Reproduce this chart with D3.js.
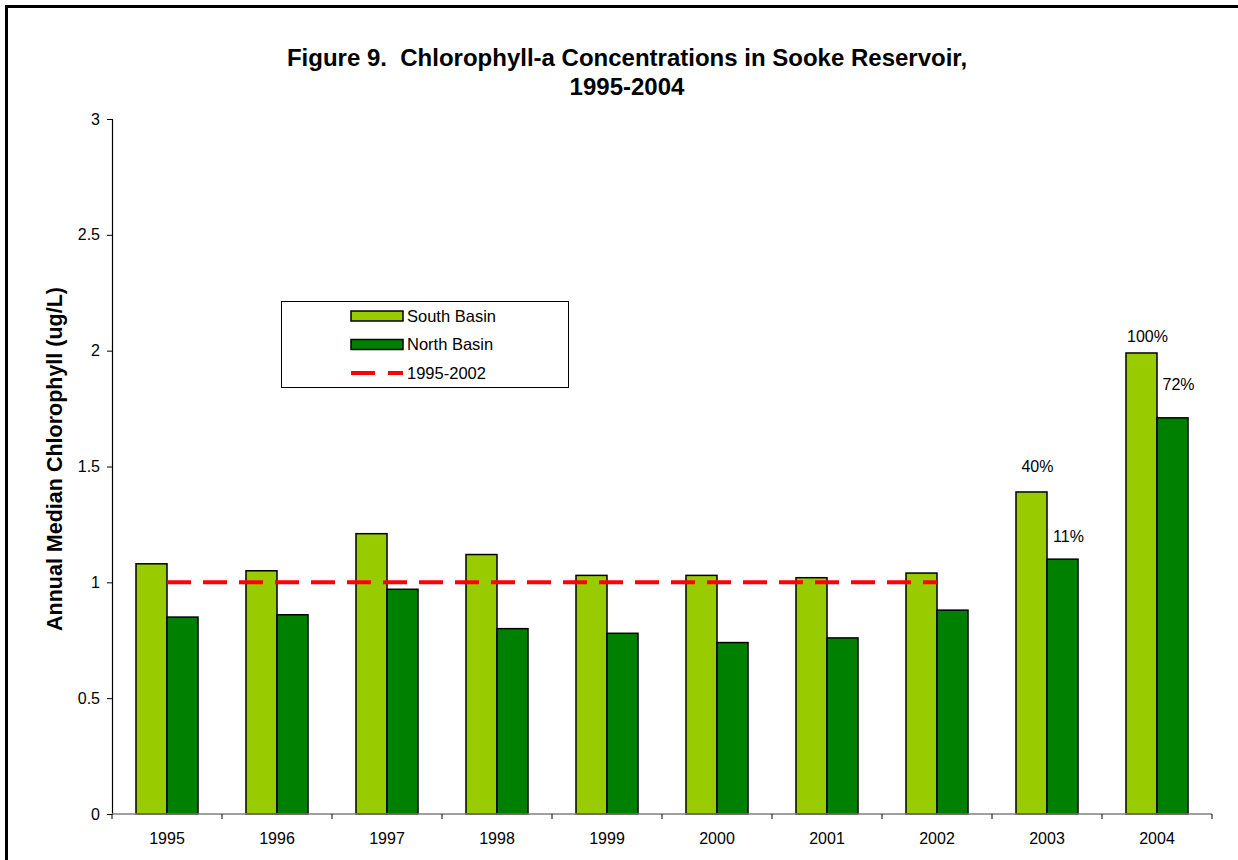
<!DOCTYPE html>
<html>
<head>
<meta charset="utf-8">
<script src="https://cdn.jsdelivr.net/npm/d3@7"></script>
<style>
  body { margin: 0; background: #fff; }
  svg { display: block; font-family: "Liberation Sans", Arial, sans-serif; }
</style>
</head>
<body>
<div id="chart"></div>
<script>
// chlorophyll-a annual medians, Sooke Reservoir
var years = ["1995", "1996", "1997", "1998", "1999", "2000", "2001", "2002", "2003", "2004"];
var southBasin = [1.08, 1.05, 1.21, 1.12, 1.03, 1.03, 1.02, 1.04, 1.39, 1.99];
var northBasin = [0.85, 0.86, 0.97, 0.80, 0.78, 0.74, 0.76, 0.88, 1.10, 1.71];
var refYears = ["1995", "1996", "1997", "1998", "1999", "2000", "2001", "2002"];
var refValues = [1, 1, 1, 1, 1, 1, 1, 1];
var yTicks = [0, 0.5, 1, 1.5, 2, 2.5, 3];

// percent-increase notes: year, series, text, height (ug/L) where the note sits
var notes = [
  { year: "2003", series: "South Basin", text: "40%", at: 1.476 },
  { year: "2003", series: "North Basin", text: "11%", at: 1.174 },
  { year: "2004", series: "South Basin", text: "100%", at: 2.037 },
  { year: "2004", series: "North Basin", text: "72%", at: 1.83 }
];

var seriesNames = ["South Basin", "North Basin"];
var colors = { "South Basin": "#99cc00", "North Basin": "#008000" };

var width = 1238, height = 860;
var margin = { left: 112, right: 26, top: 119, bottom: 46 };

var svg = d3.select("#chart").append("svg")
    .attr("width", width)
    .attr("height", height);

// outer frame (right and bottom edges run off the page)
svg.append("rect")
    .attr("x", 6.5).attr("y", 6.5)
    .attr("width", 1260).attr("height", 880)
    .attr("fill", "none")
    .attr("stroke", "#000")
    .attr("stroke-width", 3);

var x0 = d3.scaleBand()
    .domain(years)
    .range([margin.left, width - margin.right])
    .padding(0);

var x1 = d3.scaleBand()
    .domain(seriesNames)
    .range([0, x0.bandwidth()])
    .paddingInner(0)
    .paddingOuter(0.774);

var y = d3.scaleLinear()
    .domain([0, 3])
    .range([height - margin.bottom, margin.top]);

// title
var title = svg.append("text")
    .attr("text-anchor", "middle")
    .attr("font-weight", "bold")
    .attr("font-size", 24)
    .attr("fill", "#000");
title.append("tspan").attr("x", 627).attr("y", 66)
    .attr("xml:space", "preserve")
    .text("Figure 9.\u00a0 Chlorophyll-a Concentrations in Sooke Reservoir,");
title.append("tspan").attr("x", 627).attr("y", 95)
    .text("1995-2004");

// y axis
var yAxis = svg.append("g")
    .attr("transform", "translate(" + margin.left + ",0)")
    .call(d3.axisLeft(y).tickValues(yTicks).tickSize(5).tickPadding(7)
      .tickFormat(function(d) { return String(d); }));
yAxis.select(".domain").attr("stroke", "#000").attr("stroke-width", 1.2);
yAxis.selectAll(".tick line").attr("stroke", "#000");
yAxis.selectAll(".tick text")
    .attr("font-size", 16)
    .attr("font-family", "Liberation Sans, Arial, sans-serif")
    .attr("fill", "#000");

svg.append("text")
    .attr("transform", "translate(62,459) rotate(-90)")
    .attr("text-anchor", "middle")
    .attr("font-weight", "bold")
    .attr("font-size", 21.5)
    .text("Annual Median Chlorophyll (ug/L)");

// bars
var groups = svg.selectAll("g.year")
    .data(years)
    .enter()
    .append("g")
      .attr("class", "year")
      .attr("transform", function(d) { return "translate(" + x0(d) + ",0)"; });

groups.selectAll("rect")
    .data(function(d, i) {
      return [
        { series: "South Basin", value: southBasin[i] },
        { series: "North Basin", value: northBasin[i] }
      ];
    })
    .enter()
    .append("rect")
      .attr("x", function(d) { return x1(d.series); })
      .attr("y", function(d) { return y(d.value); })
      .attr("width", x1.bandwidth())
      .attr("height", function(d) { return y(0) - y(d.value); })
      .attr("fill", function(d) { return colors[d.series]; })
      .attr("stroke", "#000")
      .attr("stroke-width", 1.5);

// x axis: line, boundary ticks, centred labels
var baseY = y(0);
svg.append("line")
    .attr("x1", margin.left).attr("x2", width - margin.right)
    .attr("y1", baseY).attr("y2", baseY)
    .attr("stroke", "#808080")
    .attr("stroke-width", 1.5);

var bounds = years.map(function(d) { return x0(d); }).concat([width - margin.right]);
svg.selectAll("line.xtick")
    .data(bounds)
    .enter()
    .append("line")
      .attr("class", "xtick")
      .attr("x1", function(d) { return d; })
      .attr("x2", function(d) { return d; })
      .attr("y1", baseY)
      .attr("y2", baseY + 5)
      .attr("stroke", "#000");

svg.selectAll("text.xlabel")
    .data(years)
    .enter()
    .append("text")
      .attr("class", "xlabel")
      .attr("x", function(d) { return x0(d) + x0.bandwidth() / 2; })
      .attr("y", baseY + 30)
      .attr("text-anchor", "middle")
      .attr("font-size", 16)
      .text(function(d) { return d; });

// 1995-2002 reference line
var refLine = d3.line()
    .x(function(d, i) { return x0(refYears[i]) + x0.bandwidth() / 2; })
    .y(function(d) { return y(d); });

svg.append("path")
    .datum(refValues)
    .attr("d", refLine)
    .attr("fill", "none")
    .attr("stroke", "#ff0000")
    .attr("stroke-width", 4)
    .attr("stroke-dasharray", "24,12");

// percent notes
svg.selectAll("text.note")
    .data(notes)
    .enter()
    .append("text")
      .attr("class", "note")
      .attr("x", function(d) { return x0(d.year) + x1(d.series) + x1.bandwidth() / 2 + 6; })
      .attr("y", function(d) { return y(d.at); })
      .attr("text-anchor", "middle")
      .attr("font-size", 16)
      .text(function(d) { return d.text; });

// legend
var legend = svg.append("g");
legend.append("rect")
    .attr("x", 281.5).attr("y", 301.5)
    .attr("width", 287).attr("height", 86)
    .attr("fill", "#fff")
    .attr("stroke", "#000")
    .attr("stroke-width", 1);

var legendRows = seriesNames.concat(["1995-2002"]);
var ly = d3.scalePoint().domain(legendRows).range([316, 373]);

legend.selectAll("rect.swatch")
    .data(seriesNames)
    .enter()
    .append("rect")
      .attr("class", "swatch")
      .attr("x", 351).attr("width", 52)
      .attr("y", function(d) { return ly(d) - 5; })
      .attr("height", 10)
      .attr("fill", function(d) { return colors[d]; })
      .attr("stroke", "#000")
      .attr("stroke-width", 1.5);

legend.append("line")
    .attr("x1", 351).attr("x2", 403)
    .attr("y1", ly("1995-2002")).attr("y2", ly("1995-2002"))
    .attr("stroke", "#ff0000")
    .attr("stroke-width", 4)
    .attr("stroke-dasharray", "24,13");

legend.selectAll("text")
    .data(legendRows)
    .enter()
    .append("text")
      .attr("x", 407)
      .attr("y", function(d) { return ly(d); })
      .attr("dy", "0.36em")
      .attr("font-size", 16.5)
      .text(function(d) { return d; });
</script>
</body>
</html>
